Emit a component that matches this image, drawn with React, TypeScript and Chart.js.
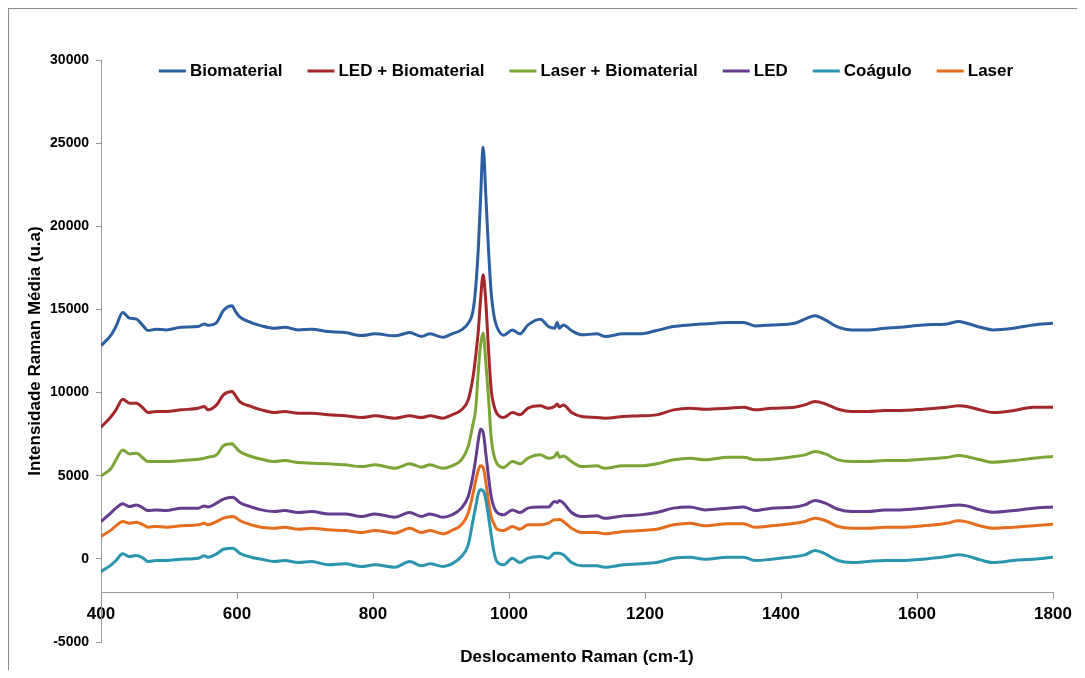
import React, { useEffect, useRef } from "react";
import { Chart, registerables } from "chart.js";

Chart.register(...registerables);

// Raman shift (cm-1) sample positions
const ramanShift = [
  400, 415, 422, 432, 442, 452, 462, 469, 481, 496,
  518, 543, 552, 557, 570, 580, 593, 597, 604, 621,
  636, 655, 670, 690, 710, 734, 759, 783, 803, 832,
  854, 871, 884, 903, 916, 930, 940, 947, 951, 955,
  958, 962, 966, 970, 974, 978, 982, 992, 1005, 1016,
  1028, 1046, 1058, 1067, 1071, 1074, 1080, 1092, 1107, 1129,
  1141, 1168, 1193, 1217, 1242, 1266, 1288, 1322, 1345, 1362,
  1386, 1420, 1435, 1450, 1465, 1484, 1504, 1528, 1553, 1575,
  1609, 1644, 1661, 1673, 1693, 1712, 1742, 1771, 1800,
];

const biomaterial = [
  12810, 13470, 13970, 14810, 14475, 14415, 14010, 13730, 13810, 13770,
  13930, 13970, 14130, 14050, 14210, 14930, 15215, 14930, 14550, 14210,
  14010, 13870, 13930, 13770, 13810, 13670, 13610, 13430, 13530, 13410,
  13610, 13370, 13530, 13330, 13530, 13770, 14170, 14900, 16300, 18780,
  21500, 24760, 21790, 18500, 15900, 14600, 13970, 13450, 13770, 13530,
  14070, 14415, 13970, 13870, 14210, 13870, 14070, 13730, 13470, 13530,
  13370, 13530, 13530, 13730, 13970, 14070, 14130, 14210, 14210, 14010,
  14070, 14170, 14415, 14615, 14370, 13930, 13770, 13770, 13870, 13930,
  14070, 14130, 14270, 14170, 13930, 13770, 13870, 14070, 14170,
];

const ledBiomaterial = [
  7920, 8560, 8960, 9600, 9360, 9360, 9060, 8800, 8860, 8860,
  8960, 9060, 9160, 8960, 9260, 9860, 10060, 9860, 9460, 9160,
  8960, 8800, 8860, 8760, 8760, 8660, 8600, 8500, 8600, 8460,
  8600, 8500, 8600, 8460, 8660, 8960, 9560, 10900, 12200, 13770,
  15500, 17080, 15380, 12500, 10100, 9200, 8760, 8500, 8800, 8660,
  9060, 9200, 9060, 9160, 9320, 9140, 9260, 8800, 8560, 8500,
  8460, 8560, 8600, 8660, 8960, 9060, 9000, 9060, 9120, 8960,
  9060, 9120, 9260, 9460, 9320, 9000, 8860, 8860, 8920, 8920,
  9000, 9120, 9200, 9160, 8960, 8800, 8920, 9120, 9120,
];

const laserBiomaterial = [
  4990, 5450, 5950, 6550, 6310, 6350, 6055, 5850, 5850, 5850,
  5910, 5995, 6055, 6110, 6255, 6795, 6915, 6755, 6455, 6155,
  5995, 5850, 5910, 5790, 5755, 5715, 5655, 5550, 5655, 5450,
  5715, 5515, 5655, 5450, 5595, 5955, 6755, 8100, 9000, 11365,
  12800, 13575, 11770, 9600, 7200, 6200, 5755, 5500, 5850, 5715,
  6055, 6255, 6055, 6150, 6395, 6110, 6190, 5850, 5550, 5595,
  5450, 5595, 5595, 5715, 5955, 6055, 5955, 6110, 6110, 5955,
  5995, 6155, 6255, 6455, 6310, 5955, 5850, 5850, 5910, 5910,
  5995, 6090, 6210, 6150, 5955, 5810, 5910, 6055, 6155,
];

const led = [
  2245, 2785, 3050, 3310, 3145, 3245, 3050, 2905, 2945, 2905,
  3050, 3050, 3185, 3120, 3350, 3590, 3710, 3650, 3385, 3120,
  2945, 2845, 2905, 2785, 2845, 2705, 2705, 2545, 2705, 2505,
  2785, 2545, 2705, 2505, 2645, 3050, 3745, 5000, 6000, 7155,
  7800, 7600, 6300, 4900, 3700, 3100, 2800, 2645, 2945, 2785,
  3050, 3120, 3120, 3450, 3385, 3510, 3350, 2785, 2545, 2585,
  2445, 2585, 2645, 2785, 3050, 3120, 2945, 3050, 3120, 2905,
  3050, 3120, 3245, 3510, 3350, 2985, 2845, 2845, 2945, 2945,
  3050, 3185, 3245, 3185, 2945, 2805, 2905, 3050, 3120,
];

const coagulo = [
  -760, -360, -100, 300, 140, 200, 40, -160, -100, -100,
  -20, 40, 180, 100, 300, 580, 640, 580, 340, 100,
  -20, -160, -100, -220, -160, -360, -300, -460, -360, -500,
  -160, -420, -300, -460, -300, 140, 840, 2300, 3150, 3950,
  4150, 4100, 3550, 2500, 1400, 400, -160, -360, 40, -220,
  40, 140, 40, 340, 340, 340, 240, -220, -420, -420,
  -500, -360, -300, -220, 40, 100, -20, 100, 100, -100,
  -20, 140, 240, 500, 300, -100, -220, -160, -100, -100,
  -20, 140, 240, 180, -60, -220, -100, -20, 100,
];

const laser = [
  1345, 1745, 1985, 2245, 2145, 2205, 2045, 1905, 1945, 1905,
  1985, 2045, 2145, 2045, 2245, 2445, 2545, 2505, 2305, 2045,
  1905, 1845, 1905, 1785, 1845, 1745, 1705, 1585, 1705, 1545,
  1845, 1585, 1705, 1505, 1705, 2045, 2745, 3900, 4700, 5350,
  5600, 5500, 4600, 3400, 2500, 2100, 1800, 1705, 1945, 1785,
  2045, 2045, 2145, 2345, 2345, 2385, 2245, 1845, 1585, 1585,
  1505, 1645, 1705, 1785, 2045, 2145, 1985, 2105, 2105, 1905,
  1985, 2145, 2245, 2445, 2305, 1945, 1845, 1845, 1905, 1905,
  1985, 2145, 2285, 2225, 1985, 1845, 1905, 1985, 2085,
];

const seriesLabels = [
  "Biomaterial",
  "LED + Biomaterial",
  "Laser + Biomaterial",
  "LED",
  "Coágulo",
  "Laser",
];
const seriesValues = [biomaterial, ledBiomaterial, laserBiomaterial, led, coagulo, laser];
const seriesColors = ["#2D5E9F", "#A4282A", "#7BA534", "#653C8E", "#2A95AE", "#E46E1E"];

const xTitle = "Deslocamento Raman (cm-1)";
const yTitle = "Intensidade Raman Média (u.a)";

const FONT = '"Liberation Sans", Arial, Helvetica, sans-serif';

// Draws the x-axis title under the plot area
const xTitlePlugin = {
  id: "xTitlePlugin",
  afterDraw(chart: any) {
    const { ctx, chartArea } = chart;
    ctx.save();
    ctx.font = `bold 17px ${FONT}`;
    ctx.fillStyle = "#000";
    ctx.textAlign = "center";
    ctx.textBaseline = "middle";
    ctx.fillText(xTitle, (chartArea.left + chartArea.right) / 2, chartArea.bottom + 15);
    ctx.restore();
  },
};

// Draws a one-row legend inside the top of the plot area (Excel style)
const insideLegendPlugin = {
  id: "insideLegendPlugin",
  afterDraw(chart: any) {
    const { ctx, chartArea } = chart;
    const lineLen = 27;
    const gapText = 4;
    const gapItem = 25;
    ctx.save();
    ctx.font = `bold 17px ${FONT}`;
    ctx.textBaseline = "middle";
    ctx.textAlign = "left";
    const items = chart.data.datasets.map((ds: any) => ({
      text: ds.label as string,
      color: ds.borderColor as string,
      w: ctx.measureText(ds.label).width,
    }));
    const total =
      items.reduce((s: number, it: any) => s + lineLen + gapText + it.w, 0) + gapItem * (items.length - 1);
    const cx = (chartArea.left + chartArea.right) / 2 + 9;
    let x = cx - total / 2;
    const y = chartArea.top + 11;
    items.forEach((it: any) => {
      ctx.strokeStyle = it.color;
      ctx.lineWidth = 3;
      ctx.beginPath();
      ctx.moveTo(x, y);
      ctx.lineTo(x + lineLen, y);
      ctx.stroke();
      ctx.fillStyle = "#000";
      ctx.fillText(it.text, x + lineLen + gapText, y);
      x += lineLen + gapText + it.w + gapItem;
    });
    ctx.restore();
  },
};

export default function App() {
  const canvasRef = useRef<HTMLCanvasElement | null>(null);

  useEffect(() => {
    if (!canvasRef.current) return;
    const datasets = seriesLabels.map((label, k) => ({
      label,
      data: ramanShift.map((x, i) => ({ x, y: seriesValues[k][i] })),
      borderColor: seriesColors[k],
      backgroundColor: seriesColors[k],
      borderWidth: 3,
      pointRadius: 0,
      pointHoverRadius: 0,
      cubicInterpolationMode: "monotone" as const,
      fill: false,
    }));

    const chart = new Chart(canvasRef.current, {
      type: "line",
      data: { datasets },
      plugins: [xTitlePlugin, insideLegendPlugin],
      options: {
        animation: false,
        responsive: false,
        maintainAspectRatio: false,
        layout: { padding: { top: 51, left: 0, right: 32, bottom: 28 } },
        plugins: {
          tooltip: { enabled: false },
          legend: { display: false },
        },
        scales: {
          x: {
            type: "linear",
            min: 400,
            max: 1800,
            position: { y: -2000 } as any,
            afterFit: (s: any) => {
              s.height = 0;
            },
            grid: { display: true, drawOnChartArea: false, drawTicks: true, tickLength: 6, color: "#999" },
            border: { display: true, color: "#999", width: 1 },
            ticks: {
              stepSize: 200,
              padding: 6,
              color: "#000",
              maxRotation: 0,
              font: { family: FONT, size: 17, weight: "bold" },
              callback: (v: any) => String(v),
            },
          },
          y: {
            type: "linear",
            min: -5000,
            max: 30000,
            position: "left",
            afterFit: (s: any) => {
              s.width = 92;
            },
            grid: { display: true, drawOnChartArea: false, drawTicks: true, tickLength: 5, color: "#999" },
            border: { display: true, color: "#999", width: 1 },
            ticks: {
              stepSize: 5000,
              padding: 7,
              color: "#000",
              font: { family: FONT, size: 14, weight: "bold" },
              callback: (v: any) => String(v),
            },
            title: {
              display: true,
              text: yTitle,
              color: "#000",
              padding: { top: 16, bottom: 0 },
              font: { family: FONT, size: 17, weight: "bold" },
            },
          },
        },
      },
    });
    return () => chart.destroy();
  }, []);

  return (
    <div
      style={{
        borderLeft: "1px solid #8a8a8a",
        borderTop: "1px solid #8a8a8a",
        width: 1076,
        height: 661,
        background: "#fff",
      }}
    >
      <canvas ref={canvasRef} width={1076} height={661} style={{ display: "block", width: 1076, height: 661 }} />
    </div>
  );
}
